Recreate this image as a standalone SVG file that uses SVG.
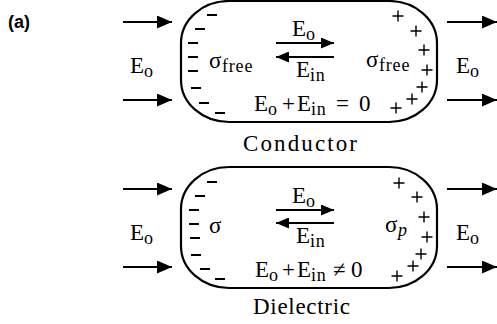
<svg xmlns="http://www.w3.org/2000/svg" width="497" height="324" viewBox="0 0 497 324">
<style>
.sh{fill:none;stroke:#000;stroke-width:2.2}
.ar{stroke:#000;stroke-width:2;fill:none}
.t{font-family:"Liberation Serif","Times New Roman",serif;font-size:23px;fill:#000}
.s{font-size:18px;letter-spacing:0.8px}
.mi{stroke:#000;stroke-width:2;fill:none}
.pl{stroke:#000;stroke-width:1.4;fill:none}
</style>
<defs>
<marker id="ah" markerUnits="userSpaceOnUse" markerWidth="15" markerHeight="13" viewBox="0 0 15 13" refX="15" refY="6.5" orient="auto"><path d="M0,0 L15,6.5 L0,13 Z" fill="#000"/></marker>
<marker id="ah2" markerUnits="userSpaceOnUse" markerWidth="13" markerHeight="11" viewBox="0 0 13 11" refX="13" refY="5.5" orient="auto"><path d="M0,0 L13,5.5 L0,11 Z" fill="#000"/></marker>
<path id="minus" d="M-5,0 H5"/>
<path id="plus" d="M-5.5,0 H5.5 M0,-5.5 V5.5"/>
</defs>
<text x="8" y="28" style="font-family:'Liberation Sans',Arial,sans-serif;font-size:18px;font-weight:bold">(a)</text>

<g id="connectors">
<line class="ar" x1="123" y1="22" x2="172" y2="22" marker-end="url(#ah)"/>
<line class="ar" x1="123" y1="100" x2="172" y2="100" marker-end="url(#ah)"/>
<line class="ar" x1="447" y1="22" x2="497" y2="22" marker-end="url(#ah)"/>
<line class="ar" x1="447" y1="100" x2="497" y2="100" marker-end="url(#ah)"/>
<line class="ar" x1="276" y1="43" x2="334" y2="43" marker-end="url(#ah2)"/>
<line class="ar" x1="334" y1="57" x2="276" y2="57" marker-end="url(#ah2)"/>
<line class="ar" x1="123" y1="189" x2="172" y2="189" marker-end="url(#ah)"/>
<line class="ar" x1="123" y1="267" x2="172" y2="267" marker-end="url(#ah)"/>
<line class="ar" x1="447" y1="189" x2="497" y2="189" marker-end="url(#ah)"/>
<line class="ar" x1="447" y1="267" x2="497" y2="267" marker-end="url(#ah)"/>
<line class="ar" x1="276" y1="210" x2="334" y2="210" marker-end="url(#ah2)"/>
<line class="ar" x1="334" y1="223" x2="276" y2="223" marker-end="url(#ah2)"/>
</g>

<g id="conductor">
<path class="sh" d="M229,1 H389 A48 42 0 0 1 437,43 V80 A48 42 0 0 1 389,122 H229 A48 42 0 0 1 181,80 V43 A48 42 0 0 1 229,1 Z"/>
<g class="mi">
<use href="#minus" x="212" y="15"/><use href="#minus" x="200" y="29"/><use href="#minus" x="193" y="43"/><use href="#minus" x="193" y="57"/><use href="#minus" x="193" y="71"/><use href="#minus" x="196" y="88"/><use href="#minus" x="204" y="103"/><use href="#minus" x="220" y="113"/>
</g>
<g class="pl">
<use href="#plus" x="398" y="16"/><use href="#plus" x="416" y="31"/><use href="#plus" x="424" y="50"/><use href="#plus" x="427" y="70"/><use href="#plus" x="422" y="87"/><use href="#plus" x="412" y="99"/><use href="#plus" x="396" y="108"/>
</g>
<text class="t" x="209" y="68">σ<tspan class="s" x="222" y="72">free</tspan></text>
<text class="t" x="366" y="67">σ<tspan class="s" x="379" y="71">free</tspan></text>
<text class="t" x="292" y="36">E<tspan class="s" x="306" y="40">o</tspan></text>
<text class="t" x="296" y="77">E<tspan class="s" x="310" y="81">in</tspan></text>
<text class="t" x="254" y="111">E<tspan class="s" x="268" y="115">o</tspan><tspan x="282" y="111">+</tspan><tspan x="297" y="111">E</tspan><tspan class="s" x="311" y="115">in</tspan><tspan x="336" y="111">=</tspan><tspan x="359" y="111">0</tspan></text>
<text class="t" x="243" y="151" textLength="114" lengthAdjust="spacing">Conductor</text>
</g>

<g id="dielectric">
<path class="sh" d="M229,167 H389 A48 42 0 0 1 437,209 V246 A48 42 0 0 1 389,288 H229 A48 42 0 0 1 181,246 V209 A48 42 0 0 1 229,167 Z"/>
<g class="mi">
<use href="#minus" x="212" y="182"/><use href="#minus" x="200" y="196"/><use href="#minus" x="194" y="210"/><use href="#minus" x="194" y="224"/><use href="#minus" x="195" y="238"/><use href="#minus" x="196" y="255"/><use href="#minus" x="205" y="269"/><use href="#minus" x="220" y="279"/>
</g>
<g class="pl">
<use href="#plus" x="399" y="183"/><use href="#plus" x="417" y="197"/><use href="#plus" x="424" y="217"/><use href="#plus" x="427" y="237"/><use href="#plus" x="421" y="254"/><use href="#plus" x="413" y="266"/><use href="#plus" x="397" y="276"/>
</g>
<text class="t" x="209" y="233">σ</text>
<text class="t" x="385" y="232">σ<tspan class="s" x="398" y="236" font-style="italic">p</tspan></text>
<text class="t" x="292" y="203">E<tspan class="s" x="306" y="207">o</tspan></text>
<text class="t" x="296" y="243">E<tspan class="s" x="310" y="247">in</tspan></text>
<text class="t" x="255" y="277">E<tspan class="s" x="269" y="281">o</tspan><tspan x="282" y="277">+</tspan><tspan x="297" y="277">E</tspan><tspan class="s" x="311" y="281">in</tspan><tspan x="333" y="277">≠</tspan><tspan x="351" y="277">0</tspan></text>
<text class="t" x="253" y="314" textLength="97" lengthAdjust="spacing">Dielectric</text>
</g>

<g id="labels-outside">
<text class="t" x="130" y="73">E<tspan class="s" x="144" y="77">o</tspan></text>
<text class="t" x="456" y="73">E<tspan class="s" x="470" y="77">o</tspan></text>
<text class="t" x="130" y="240">E<tspan class="s" x="144" y="244">o</tspan></text>
<text class="t" x="456" y="240">E<tspan class="s" x="470" y="244">o</tspan></text>
</g>
</svg>
